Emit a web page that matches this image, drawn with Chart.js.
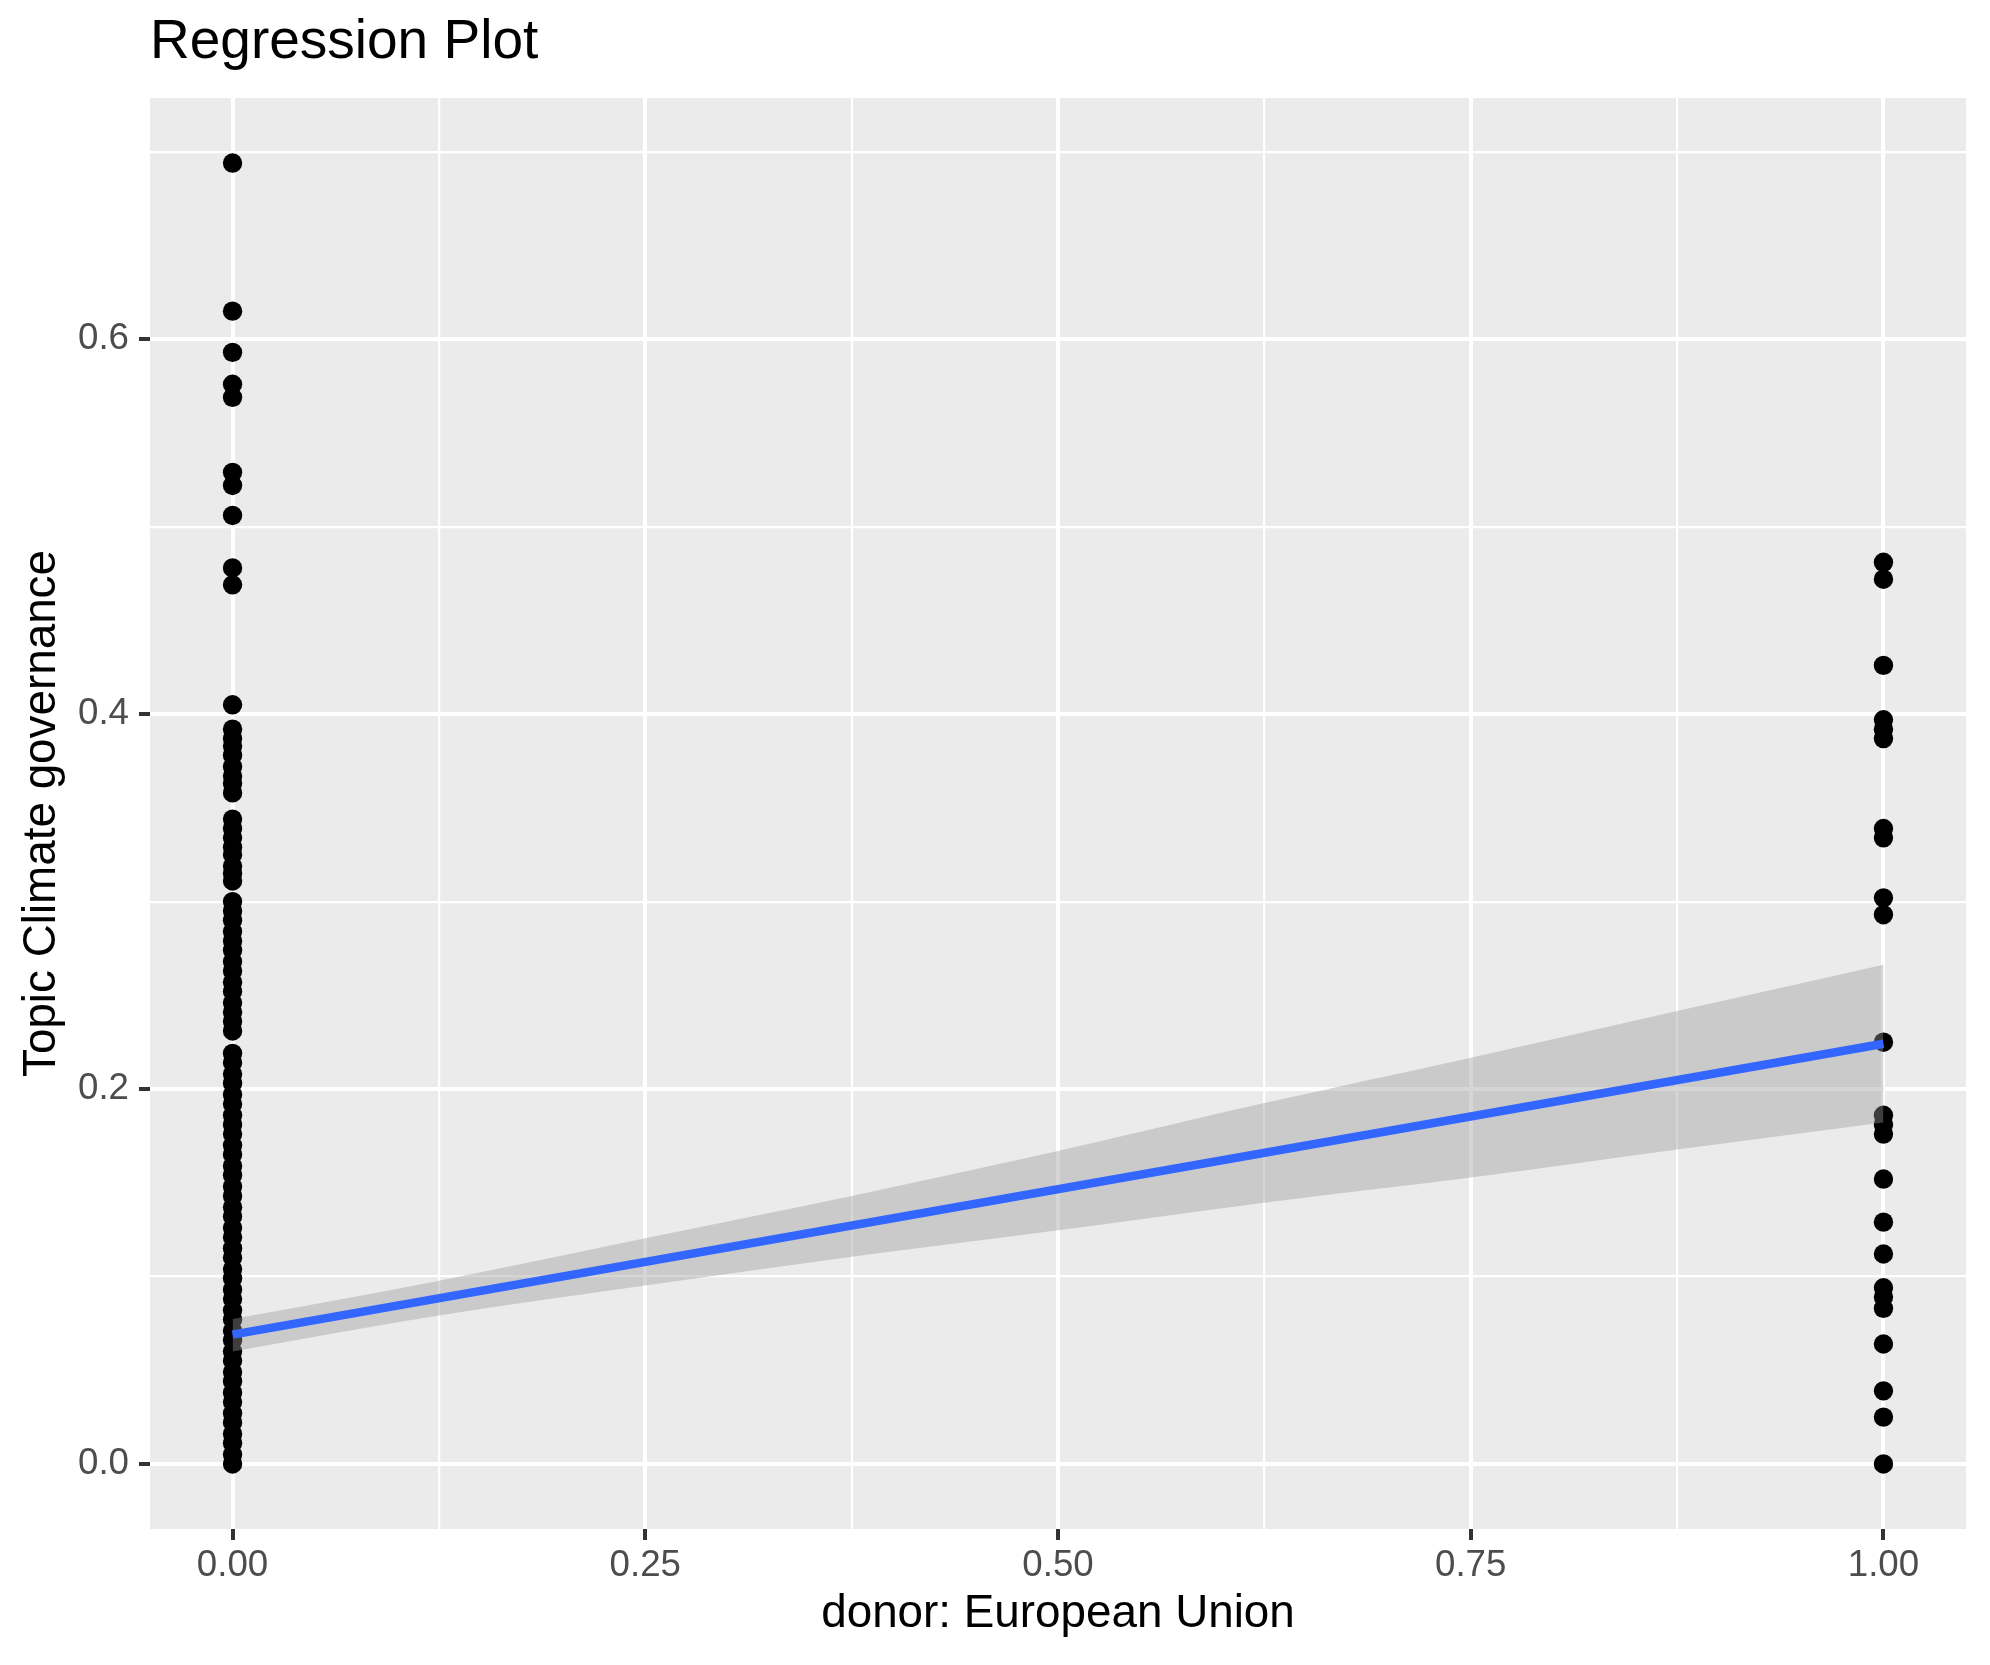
<!DOCTYPE html>
<html>
<head>
<meta charset="utf-8">
<title>Regression Plot</title>
<script src="https://cdn.jsdelivr.net/npm/chart.js@4.4.1/dist/chart.umd.min.js"></script>
<style>
  html, body { margin: 0; padding: 0; background: #fff; }
  #wrap { width: 1990px; height: 1665px; }
</style>
</head>
<body>
<div id="wrap"><canvas id="regChart" width="1990" height="1665"></canvas></div>
<script>
// ========== Data ==========
const groupX = [0, 1]; // donor: European Union (no / yes)

// topic share, donor != EU (dense column at x = 0)
const euZeroY = [
  0.694, 0.615, 0.593, 0.576, 0.569, 0.529, 0.522, 0.506, 0.478, 0.469,
  0.405,
  0.392, 0.387, 0.383, 0.378, 0.372, 0.367, 0.363, 0.358,
  0.344, 0.339, 0.334, 0.329, 0.325, 0.319, 0.315, 0.311,
  0.300, 0.295, 0.290, 0.284, 0.279, 0.274, 0.268, 0.263, 0.257, 0.252, 0.246, 0.241, 0.236, 0.231,
  0.219, 0.214, 0.208, 0.203, 0.197, 0.192, 0.186, 0.181, 0.176, 0.170,
  0.165, 0.159, 0.154, 0.148, 0.143, 0.137, 0.132, 0.126, 0.121, 0.115,
  0.110, 0.104, 0.099, 0.093, 0.088, 0.082, 0.077, 0.071, 0.066, 0.060,
  0.055, 0.049, 0.044, 0.038, 0.033, 0.027, 0.022, 0.016, 0.011, 0.005, 0.000
];

// topic share, donor == EU (x = 1)
const euOneY = [
  0.481, 0.472, 0.426, 0.397, 0.392, 0.387, 0.339, 0.334, 0.302, 0.293,
  0.225, 0.186, 0.181, 0.176, 0.152, 0.129, 0.112, 0.094, 0.089, 0.083,
  0.064, 0.039, 0.025, 0.000
];

// lm fit + 95% band
const fitX = [0, 1];
const fitY = [0.0690, 0.2242];
const bandX = [0, 0.125, 0.25, 0.375, 0.5, 0.625, 0.75, 0.875, 1];
const bandHigh = [0.0773, 0.0978, 0.1204, 0.1430, 0.1670, 0.1925, 0.2167, 0.2416, 0.2663];
const bandLow = [0.0600, 0.0792, 0.0952, 0.1105, 0.1247, 0.1394, 0.1528, 0.1678, 0.1822];

// axes
const xTicks = [0, 0.25, 0.5, 0.75, 1];
const xTickLabels = ['0.00', '0.25', '0.50', '0.75', '1.00'];
const xMinor = [0.125, 0.375, 0.625, 0.875];
const yTicks = [0, 0.2, 0.4, 0.6];
const yTickLabels = ['0.0', '0.2', '0.4', '0.6'];
const yMinor = [0.1, 0.3, 0.5, 0.7];

(function() {
  if (!window.Chart) return;

  const FONT = "'Liberation Sans', Arial, Helvetica, sans-serif";
  Chart.defaults.font.family = FONT;

  const isIn = (v, arr) => arr.some(t => Math.abs(t - v) < 1e-9);
  const labelFor = (v, vals, labels) => {
    const i = vals.findIndex(t => Math.abs(t - v) < 1e-9);
    return i < 0 ? '' : labels[i];
  };

  // grey panel behind the grid
  const panelBg = {
    id: 'panelBg',
    beforeDraw(chart) {
      const { ctx, chartArea: a } = chart;
      ctx.save();
      ctx.fillStyle = '#EBEBEB';
      ctx.fillRect(a.left, a.top, a.right - a.left, a.bottom - a.top);
      ctx.restore();
    }
  };

  const gridFor = (major) => ({
    color: '#FFFFFF',
    lineWidth: c => (c.tick && isIn(c.tick.value, major)) ? 4 : 2.2,
    tickColor: c => (c.tick && isIn(c.tick.value, major)) ? '#333333' : 'rgba(0,0,0,0)',
    tickWidth: 4,
    tickLength: 11,
    drawTicks: true
  });

  const pts = (xs, ys) => ys.map((y, i) => ({ x: Array.isArray(xs) ? xs[i] : xs, y }));

  new Chart(document.getElementById('regChart'), {
    type: 'line',
    data: {
      datasets: [
        { label: 'fit', data: pts(fitX, fitY), borderColor: '#3366FF', borderWidth: 8.5,
          pointRadius: 0, fill: false, order: 0 },
        { label: 'band low', data: pts(bandX, bandLow), borderColor: 'rgba(0,0,0,0)', borderWidth: 0,
          pointRadius: 0, fill: false, cubicInterpolationMode: 'monotone', order: 2 },
        { label: 'band high', data: pts(bandX, bandHigh), borderColor: 'rgba(0,0,0,0)', borderWidth: 0,
          pointRadius: 0, fill: '-1', backgroundColor: 'rgba(153,153,153,0.4)',
          cubicInterpolationMode: 'monotone', order: 1 },
        { label: 'EU = 0', data: pts(groupX[0], euZeroY), showLine: false, pointRadius: 9.7,
          pointBackgroundColor: '#000', pointBorderWidth: 0, order: 3 },
        { label: 'EU = 1', data: pts(groupX[1], euOneY), showLine: false, pointRadius: 9.7,
          pointBackgroundColor: '#000', pointBorderWidth: 0, order: 3 }
      ]
    },
    options: {
      responsive: false,
      devicePixelRatio: 1,
      animation: false,
      events: [],
      layout: { padding: { left: 0, right: 24, top: 0, bottom: 0 } },
      plugins: {
        legend: { display: false },
        tooltip: { enabled: false },
        title: {
          display: true, text: 'Regression Plot', align: 'start', fullSize: false,
          color: '#000', font: { size: 55, weight: 'normal' },
          padding: { top: 10, bottom: 22 }
        }
      },
      scales: {
        x: {
          type: 'linear', min: -0.05, max: 1.05,
          afterBuildTicks: ax => {
            ax.ticks = xTicks.concat(xMinor).sort((a, b) => a - b).map(v => ({ value: v }));
          },
          afterFit: ax => { ax.height = 136; },
          ticks: {
            autoSkip: false, maxRotation: 0, padding: 3.5, color: '#4D4D4D',
            font: { size: 36.7 },
            callback: v => labelFor(v, xTicks, xTickLabels)
          },
          grid: gridFor(xTicks),
          border: { display: false },
          title: {
            display: true, text: 'donor: European Union', color: '#000',
            font: { size: 45.8 }, padding: { top: 0, bottom: 23.5 }
          }
        },
        y: {
          type: 'linear', min: -0.0347, max: 0.7287,
          afterBuildTicks: ax => {
            ax.ticks = yTicks.concat(yMinor).sort((a, b) => a - b).map(v => ({ value: v }));
          },
          afterFit: ax => { ax.width = 150; },
          ticks: {
            autoSkip: false, padding: 10, color: '#4D4D4D',
            font: { size: 36.7 },
            callback: v => labelFor(v, yTicks, yTickLabels)
          },
          grid: gridFor(yTicks),
          border: { display: false },
          title: {
            display: true, text: 'Topic Climate governance', color: '#000',
            font: { size: 45.8 }, padding: { top: 14.4, bottom: 0 }
          }
        }
      }
    },
    plugins: [panelBg]
  });
})();
</script>
</body>
</html>
